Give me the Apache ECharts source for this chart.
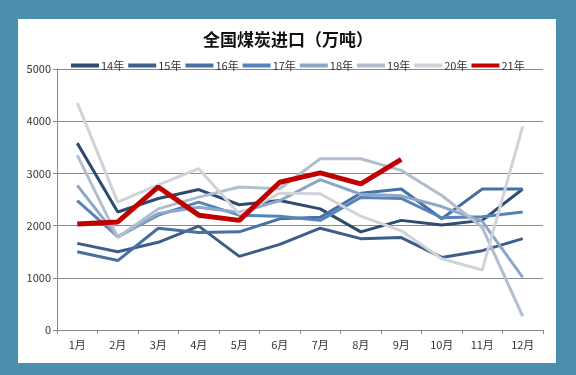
<!DOCTYPE html>
<html>
<head>
<meta charset="utf-8">
<script src="https://cdn.jsdelivr.net/npm/echarts@6/dist/echarts.min.js"></script>
<style>
html,body{margin:0;padding:0;background:#4a90ad;}
#c{width:576px;height:375px;}
</style>
</head>
<body>
<div id="c"></div>
<script>
var months = ['1月','2月','3月','4月','5月','6月','7月','8月','9月','10月','11月','12月'];
var yTicks = [0, 1000, 2000, 3000, 4000, 5000];
var seriesNames = ['14年','15年','16年','17年','18年','19年','20年','21年'];
var y14 = [3580, 2260, 2520, 2690, 2400, 2480, 2320, 1880, 2100, 2010, 2100, 2700];
var y15 = [1660, 1500, 1680, 1990, 1410, 1640, 1950, 1750, 1770, 1390, 1520, 1750];
var y16 = [1500, 1330, 1950, 1870, 1880, 2130, 2160, 2620, 2700, 2130, 2700, 2700];
var y17 = [2480, 1790, 2200, 2450, 2200, 2180, 2100, 2540, 2520, 2150, 2170, 2260];
var y18 = [2770, 1780, 2230, 2350, 2250, 2480, 2880, 2600, 2570, 2365, 2080, 1006];
var y19 = [3350, 1775, 2320, 2545, 2740, 2705, 3280, 3280, 3058, 2577, 1968, 260];
var y20 = [4350, 2450, 2780, 3090, 2220, 2620, 2610, 2180, 1900, 1365, 1150, 3900];
var y21 = [2030, 2070, 2740, 2200, 2100, 2830, 3010, 2800, 3270];

var colors = ['#2f4b70','#3d5e88','#4770a3','#5584bb','#8ea6c7','#b2bdcf','#d0d3d9','#c00000'];
var allData = [y14, y15, y16, y17, y18, y19, y20, y21];
var font = '"Noto Sans CJK SC", "Noto Sans", sans-serif';

var chart = echarts.init(document.getElementById('c'));
var series = seriesNames.map(function (n, i) {
  return {
    name: n,
    type: 'line',
    data: allData[i],
    symbol: 'none',
    z: i === 7 ? 10 : 2 + i,
    lineStyle: { width: i === 7 ? 5 : 3, color: colors[i] },
    itemStyle: { color: colors[i] }
  };
});

chart.setOption({
  backgroundColor: '#4a90ad',
  animation: false,
  textStyle: { fontFamily: font },
  graphic: [{
    type: 'rect',
    z: -10,
    shape: { x: 18, y: 19, width: 538, height: 344 },
    style: { fill: '#ffffff' },
    silent: true
  }],
  title: {
    text: '全国煤炭进口（万吨）',
    left: 'center',
    top: 26,
    textStyle: { fontSize: 17, fontWeight: 'bold', color: '#111', fontFamily: font }
  },
  legend: {
    left: 66,
    top: 55,
    itemWidth: 28,
    itemHeight: 4,
    itemGap: 4,
    icon: 'rect',
    data: seriesNames,
    textStyle: { fontSize: 11, color: '#333', fontFamily: font, padding: [0, 0, 0, -3] }
  },
  grid: { left: 57, right: 33, top: 69, bottom: 45 },
  xAxis: {
    type: 'category',
    data: months,
    boundaryGap: true,
    axisLine: { lineStyle: { color: '#888', width: 1 } },
    axisTick: { show: true, length: 4, lineStyle: { color: '#888' } },
    axisLabel: { color: '#333', fontSize: 11, margin: 9, fontFamily: font }
  },
  yAxis: {
    type: 'value',
    min: yTicks[0],
    max: yTicks[yTicks.length - 1],
    interval: 1000,
    axisLine: { show: true, lineStyle: { color: '#888', width: 1 } },
    axisTick: { show: true, length: 4, lineStyle: { color: '#888' } },
    axisLabel: { color: '#333', fontSize: 11, margin: 6, fontFamily: font, formatter: function (v) { return String(v); } },
    splitLine: { lineStyle: { color: '#8a8a8a', width: 1 } }
  },
  series: series
});
</script>
</body>
</html>
